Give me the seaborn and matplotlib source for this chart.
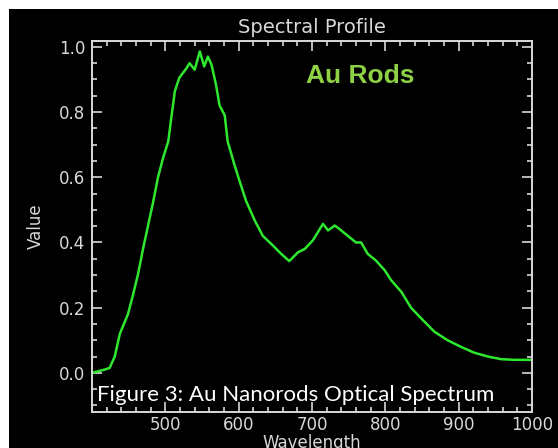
import matplotlib
matplotlib.use("Agg")
import matplotlib.pyplot as plt
from matplotlib.patches import Rectangle
from matplotlib.ticker import MultipleLocator
import seaborn as sns
import pandas as pd

# spectrum
wavelength = [400, 417, 424, 431, 438, 449, 456, 463, 470, 476, 483, 490, 497, 504, 508,
              513, 519, 529, 533, 540, 547, 553, 558, 563, 569, 574, 581, 585, 594, 601,
              610, 622, 633, 647, 658, 669, 681, 690, 701, 715, 722, 731, 737, 749, 760,
              767, 776, 787, 799, 808, 822, 835, 849, 867, 885, 903, 921, 940, 958, 976, 999]
value = [0.0, 0.01, 0.015, 0.05, 0.12, 0.18, 0.24, 0.305, 0.385, 0.447, 0.52, 0.6, 0.66, 0.71, 0.78,
         0.864, 0.905, 0.935, 0.95, 0.93, 0.986, 0.94, 0.97, 0.945, 0.885, 0.82, 0.79, 0.71, 0.64, 0.59,
         0.528, 0.467, 0.42, 0.39, 0.365, 0.343, 0.37, 0.38, 0.406, 0.457, 0.437, 0.452, 0.442, 0.42, 0.4,
         0.4, 0.365, 0.345, 0.315, 0.284, 0.248, 0.2, 0.167, 0.126, 0.1, 0.08, 0.062, 0.05, 0.042, 0.04, 0.04]
xticks = [500, 600, 700, 800, 900, 1000]
yticks = [0.0, 0.2, 0.4, 0.6, 0.8, 1.0]

df = pd.DataFrame({"Wavelength": wavelength, "Value": value})

fig = plt.figure(figsize=(5.58, 4.48), dpi=100, facecolor="white")
# black panel, thin white strip left and top like the screenshot
fig.patches.append(Rectangle((9 / 558, 0), 1, 1 - 9 / 448, transform=fig.transFigure,
                             facecolor="black", edgecolor="none", zorder=-5))
ax = fig.add_axes([92 / 558, 1 - 412 / 448, 440 / 558, 371 / 448])
ax.set_facecolor("black")

sns.lineplot(data=df, x="Wavelength", y="Value", ax=ax, color="#2ee82e", linewidth=1.8)

fg = "#d8d8d8"
ax.set_xlim(400, 1000)
ax.set_ylim(-0.12, 1.018)
ax.set_xticks(xticks)
ax.set_yticks(yticks)
ax.set_yticklabels(["%.1f" % v for v in yticks])
ax.xaxis.set_minor_locator(MultipleLocator(20))
ax.yaxis.set_minor_locator(MultipleLocator(0.05))
ax.tick_params(which="both", direction="in", top=True, right=True, colors=fg,
               labelsize=12, width=1.2)
ax.tick_params(which="major", length=7)
ax.tick_params(which="minor", length=3.5)
ax.tick_params(axis="x", pad=3)
ax.tick_params(axis="y", pad=5)
for s in ax.spines.values():
    s.set_color(fg)
    s.set_linewidth(1.4)

ax.set_title("Spectral Profile", color=fg, fontsize=14, pad=6)
ax.set_xlabel("Wavelength", color=fg, fontsize=12, labelpad=0)
ax.set_ylabel("Value", color=fg, fontsize=12, labelpad=10)

ax.text(0.61, 0.905, "Au Rods", transform=ax.transAxes, color="#8ed144",
        fontsize=19, fontweight="bold", family="Liberation Sans", ha="center", va="center")
ax.text(0.012, 0.045, "Figure 3: Au Nanorods Optical Spectrum", transform=ax.transAxes,
        color="white", fontsize=16, family="Lato", ha="left", va="center")

fig.savefig("out.png", dpi=100, facecolor=fig.get_facecolor())
